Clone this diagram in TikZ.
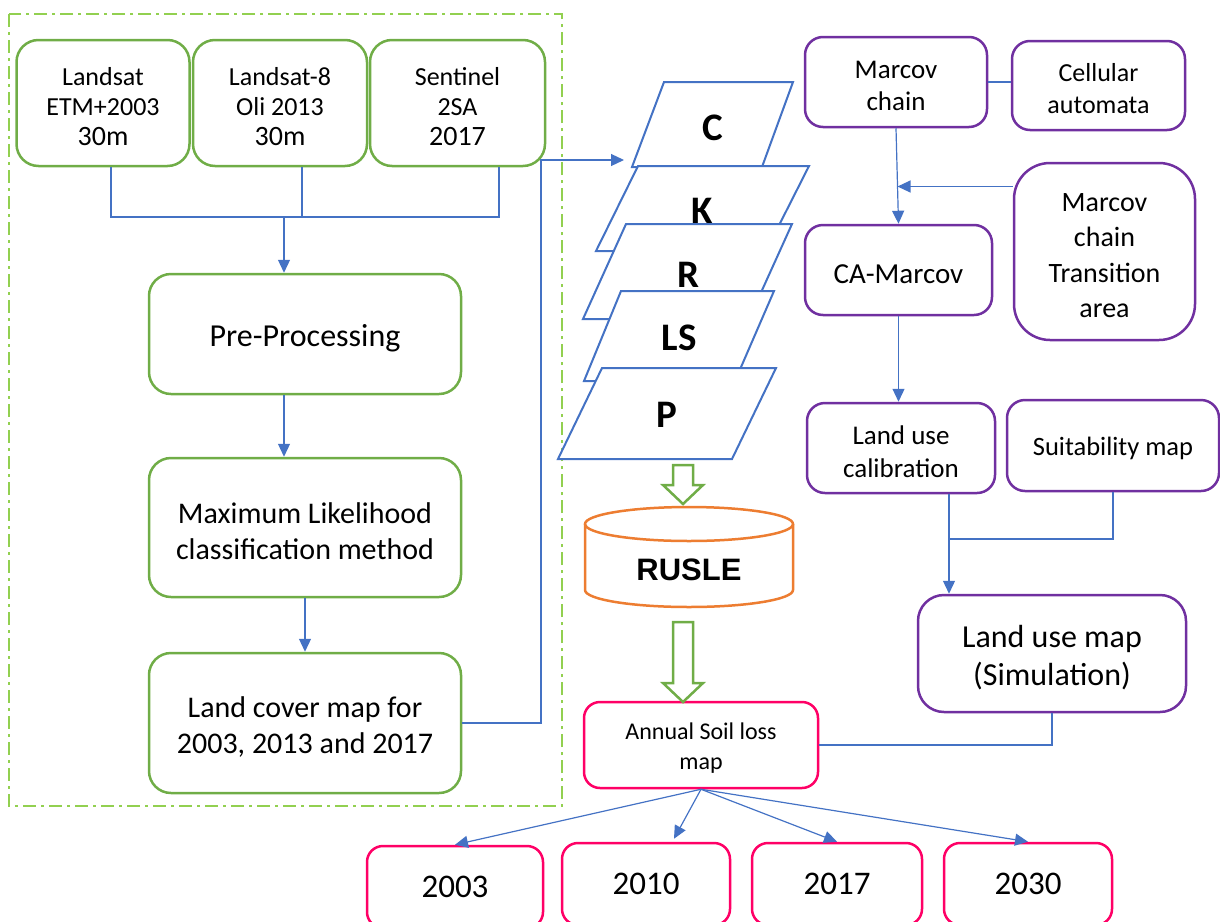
\documentclass[tikz,border=0pt]{standalone}
\usepackage{fontspec}
\setmainfont{Carlito}
\newfontfamily\headfont{Liberation Sans}
\usetikzlibrary{arrows.meta,calc}
\newcommand\fsz[2]{\fontsize{#1}{#2}\selectfont}
% zero-width strut on a first line: centres the text the way a word processor does
\newcommand\st{\rule{0pt}{0.95em}}

\definecolor{gbox}{HTML}{70AD47}
\definecolor{gframe}{HTML}{92D050}
\definecolor{lblue}{HTML}{4472C4}
\definecolor{purp}{HTML}{7030A0}
\definecolor{orng}{HTML}{ED7D31}
\definecolor{pinkred}{HTML}{FF0066}

\tikzset{
  box/.style={draw, line width=2.5pt, align=center, inner sep=0pt, text=black},
  greenbox/.style={box, draw=gbox, rounded corners=22pt},
  purplebox/.style={box, draw=purp, rounded corners=18pt},
  pinkbox/.style={box, draw=pinkred, rounded corners=16pt},
  conn/.style={draw=lblue, line width=1.2pt},
  arr/.style={conn, -{Triangle[length=13pt,width=12pt]}},
  para/.style={draw=lblue, line width=2pt, fill=white, line join=miter},
  letter/.style={font=\fsz{39}{40}\bfseries, inner sep=0pt},
  hollow/.style={draw=gbox, line width=2.5pt, fill=white, line join=miter},
  frame/.style={draw=gframe, line width=2.8pt, dash pattern=on 13pt off 5pt on 3pt off 5pt}
}

\begin{document}
\begin{tikzpicture}[x=1pt,y=-1pt]
\useasboundingbox (0,0) rectangle (1220,921);
\clip (0,0) rectangle (1220,921);

% dash-dot frame around the land cover workflow
\draw[frame] (9,14) rectangle (562,806);

% satellite inputs
\node[greenbox, minimum width=173pt, minimum height=126pt, font=\fsz{26}{30}] (lsat) at (103,103)
  {\st Landsat\\ETM+2003\\{\fsz{28}{31}30m}};
\node[greenbox, minimum width=174pt, minimum height=126pt, font=\fsz{26}{30}] (lsat8) at (280,103)
  {\st Landsat-8\\Oli 2013\\{\fsz{28}{31}30m}};
\node[greenbox, minimum width=175pt, minimum height=126pt, font=\fsz{26}{30}] (sent) at (457.5,103)
  {\st Sentinel\\2SA\\{\fsz{28}{31}2017}};

% processing chain
\node[greenbox, minimum width=312pt, minimum height=120pt, font=\fsz{32}{36}] (pre) at (305,334) {\st Pre-Processing};
\node[greenbox, minimum width=312pt, minimum height=139pt, font=\fsz{30}{36}] (ml) at (305,527.5)
  {\st Maximum Likelihood\\classification method};
\node[greenbox, minimum width=312pt, minimum height=140pt, font=\fsz{30}{36}] (lc) at (305,723)
  {\st Land cover map for\\2003, 2013 and 2017};

% CA-Markov branch
\node[purplebox, minimum width=182pt, minimum height=90pt, font=\fsz{27}{32}] (mc) at (896,82) {\st Marcov\\chain};
\node[purplebox, minimum width=173pt, minimum height=89pt, font=\fsz{26}{32}] (cell) at (1098.5,85.5) {\st Cellular\\automata};
\node[purplebox, minimum width=187pt, minimum height=90pt, font=\fsz{29}{34}] (ca) at (898.5,270) {\st CA-Marcov};
\node[purplebox, rounded corners=36pt, minimum width=181pt, minimum height=177pt, font=\fsz{28}{35.5}] (trans) at (1104.5,251.5)
  {\st Marcov\\chain\\Transition\\area};
\node[purplebox, minimum width=188pt, minimum height=90pt, font=\fsz{27}{33}] (cal) at (901,448) {\st Land use\\calibration};
\node[purplebox, minimum width=212pt, minimum height=91pt, font=\fsz{26.5}{32}] (suit) at (1113,445.5) {\st Suitability map};
\node[purplebox, rounded corners=26pt, minimum width=268pt, minimum height=117pt, font=\fsz{32}{38}] (lum) at (1052,653.5)
  {\st Land use map\\(Simulation)};

% soil loss outputs
\node[pinkbox, minimum width=234pt, minimum height=86pt, font=\fsz{24}{30}] (ann) at (701,745) {\st Annual Soil loss\\map};
\node[pinkbox, minimum width=176pt, minimum height=82pt, font=\fsz{33}{36}] (y03) at (455,887) {2003};
\node[pinkbox, minimum width=168pt, minimum height=82pt, font=\fsz{33}{36}] (y10) at (646,884) {2010};
\node[pinkbox, minimum width=170pt, minimum height=82pt, font=\fsz{33}{36}] (y17) at (837,884) {2017};
\node[pinkbox, minimum width=168pt, minimum height=82pt, font=\fsz{33}{36}] (y30) at (1028,884) {2030};

% RUSLE factor layers, stacked from top to bottom
\draw[para] (664,82) -- (793,82) -- (762,167) -- (632,167) -- cycle;
\node[letter] (fC) at (713,128) {C};
\draw[para] (638,166) -- (809,166) -- (766,251) -- (596,251) -- cycle;
\node[letter] (fK) at (702,211) {K};
\draw[para] (626,224) -- (792,224) -- (749,319) -- (583,319) -- cycle;
\node[letter] (fR) at (688,275) {R};
\draw[para] (621,291) -- (774,291) -- (735,381) -- (584,381) -- cycle;
\node[letter] (fLS) at (679,338) {LS};
\draw[para] (602,368) -- (776,368) -- (732,459) -- (558,459) -- cycle;
\node[letter] (fP) at (667,415) {P};

% RUSLE model cylinder
\draw[draw=orng, line width=2.5pt, fill=white] (585,524) -- (585,590)
  arc[start angle=180, end angle=360, x radius=104pt, y radius=17pt] -- (793,524);
\draw[draw=orng, line width=2.5pt] (689,524) ellipse [x radius=104pt, y radius=17pt];
\node[font=\headfont\bfseries\fsz{31}{32}, inner sep=0pt] (rusle) at (689,570) {RUSLE};

% block arrows
\draw[hollow] (673,465) -- (693,465) -- (693,485) -- (703,485) -- (683,504) -- (663,485) -- (673,485) -- cycle;
\draw[hollow] (673,622) -- (693,622) -- (693,683) -- (703,683) -- (683,702) -- (663,683) -- (673,683) -- cycle;

% connectors of the land cover chain
\coordinate (b1) at (111,217);
\coordinate (b2) at (302,217);
\coordinate (b3) at (499,217);
\coordinate (bm) at (284,217);
\draw[conn] (lsat.south -| b1) -- (b1) -- (b3) -- (sent.south -| b3);
\draw[conn] (lsat8.south -| b2) -- (b2);
\draw[arr] (bm) -- (bm |- pre.north);
\draw[arr] (pre.south -| bm) -- (bm |- ml.north);
\draw[arr] (ml.south) -- (lc.north);
\coordinate (cx) at (541,160);
\coordinate (cin) at (624,160);
\draw[arr] (lc.east) -| (cx) -- (cin);

% connectors of the CA-Markov branch
\draw[conn] (mc.east) -- (mc.east -| cell.west);
\draw[arr] (mc.south) -- (ca.north);
\coordinate (mid) at ($(mc.south)!0.61!(ca.north)$);
\draw[arr] (trans.west |- mid) -- (mid);
\draw[arr] (ca.south) -- (ca.south |- cal.north);
\coordinate (jn) at (949,539);
\draw[conn] (cal.south -| jn) -- (jn);
\draw[conn] (suit.south) |- (jn);
\draw[arr] (jn) -- (jn |- lum.north);
\draw[conn] (lum.south) |- (ann.east);

% soil loss per year
\draw[arr] (ann.south) -- (y03.north);
\draw[arr] (ann.south) -- ([xshift=28pt,yshift=3pt]y10.north);
\draw[arr] (ann.south) -- (y17.north);
\draw[arr] (ann.south) -- (y30.north);
\end{tikzpicture}
\end{document}
